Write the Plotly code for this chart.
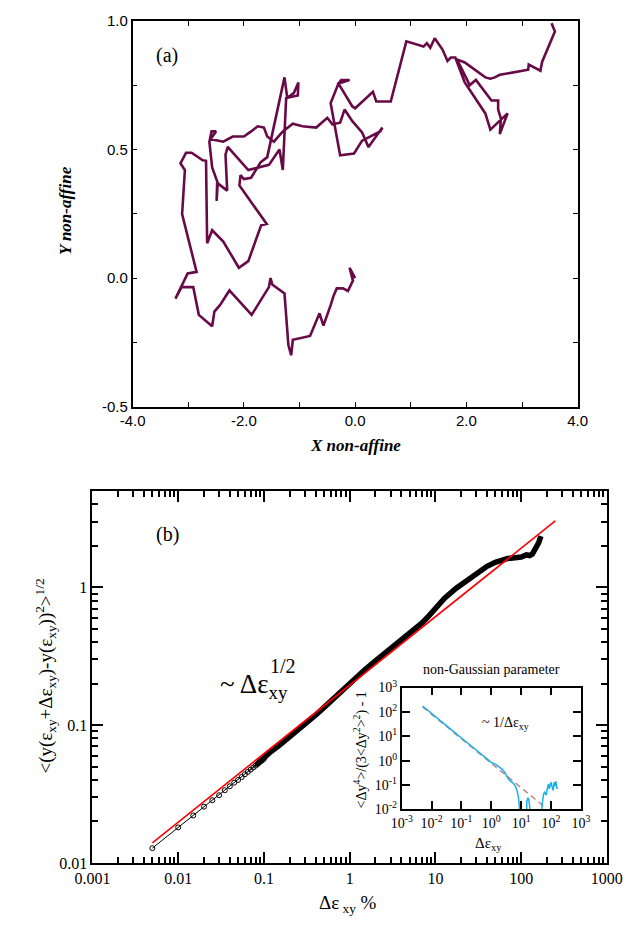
import plotly.graph_objects as go

# ---------------- Panel (a): non-affine trajectory ----------------
traj_x = [0.00, -0.10, -0.04, -0.13, -0.22, -0.33, -0.39, -0.44, -0.57, -0.64, -0.81, -1.12, -1.15, -1.20,
          -1.27, -1.49, -1.52, -1.55, -1.86, -2.26, -2.43, -2.53, -2.57, -2.81, -2.91, -3.12, -3.23, -3.01,
          -2.85, -3.11, -3.06, -3.14, -3.04, -2.94, -2.74, -2.68, -2.66, -2.57, -2.37, -2.09, -1.92, -1.69,
          -1.59, -2.08, -2.06, -2.00, -1.87, -1.70, -1.58, -1.27, -1.22, -1.10, -1.02, -1.03, -1.24, -1.30,
          -1.36, -1.55, -1.92, -2.29, -2.33, -2.30, -2.48, -2.49, -2.47, -2.57, -2.62, -2.58, -2.50, -2.60,
          -2.37, -2.20, -2.00, -1.87, -1.75, -1.64, -1.58, -1.46, -1.30, -1.12, -0.99, -0.95, -0.70, -0.50,
          -0.41, -0.27, -0.19, -0.05, 0.125, 0.24, 0.49, 0.45, 0.125, -0.02, -0.27, -0.44, -0.30, -0.25,
          -0.10, -0.30, -0.05, 0.00, 0.32, 0.38, 0.64, 0.92, 1.23, 1.29, 1.35, 1.43, 1.57, 1.66, 1.72, 1.80,
          1.97, 2.34, 2.43, 2.74, 2.60, 2.62, 2.57, 2.57, 2.45, 2.17, 2.06, 1.83, 1.97, 2.34, 2.43, 2.51,
          2.60, 3.11, 3.12, 3.33, 3.36, 3.59, 3.53]
traj_y = [0.00, 0.04, -0.01, -0.05, -0.04, -0.04, -0.07, -0.105, -0.185, -0.137, -0.225, -0.24, -0.30, -0.26,
          -0.06, -0.025, 0.00, -0.035, -0.143, -0.048, -0.105, -0.13, -0.187, -0.143, -0.035, -0.035, -0.08, 0.018,
          0.024, 0.249, 0.42, 0.446, 0.487, 0.487, 0.458, 0.456, 0.135, 0.186, 0.142, 0.04, 0.066, 0.205,
          0.21, 0.36, 0.40, 0.385, 0.39, 0.45, 0.47, 0.78, 0.70, 0.72, 0.76, 0.71, 0.70, 0.42,
          0.50, 0.44, 0.42, 0.51, 0.48, 0.34, 0.37, 0.30, 0.37, 0.43, 0.53, 0.57, 0.57, 0.54,
          0.53, 0.55, 0.55, 0.57, 0.59, 0.585, 0.55, 0.53, 0.57, 0.60, 0.59, 0.59, 0.585, 0.623,
          0.598, 0.604, 0.655, 0.61, 0.566, 0.509, 0.585, 0.57, 0.534, 0.484, 0.477, 0.68, 0.756, 0.77,
          0.77, 0.756, 0.667, 0.66, 0.724, 0.686, 0.686, 0.92, 0.90, 0.913, 0.895, 0.932, 0.888, 0.844, 0.857, 0.857,
          0.76, 0.64, 0.577, 0.64, 0.56, 0.62, 0.655, 0.69, 0.69, 0.77, 0.75, 0.85, 0.838, 0.78, 0.775, 0.78,
          0.79, 0.81, 0.83, 0.806, 0.84, 0.958, 0.99]

# ---------------- Panel (b): MSD-like curve ----------------
pts_x = [0.005, 0.010, 0.015, 0.020, 0.025, 0.030, 0.035, 0.040, 0.045, 0.050,
         0.055, 0.060, 0.065, 0.070, 0.075, 0.080, 0.085, 0.090, 0.095, 0.100]
pts_y = [0.0128, 0.0181, 0.0221, 0.0256, 0.0285, 0.0310, 0.0337, 0.0360, 0.0382, 0.0400,
         0.0420, 0.0440, 0.0458, 0.0476, 0.0492, 0.0508, 0.0524, 0.0540, 0.0554, 0.0570]

band_x = [0.08, 0.1, 0.12, 0.15, 0.2, 0.25, 0.3, 0.4, 0.5, 0.7, 1.0, 1.5, 2.0, 3.0, 4.0, 5.0, 6.0, 7.0,
          8.5, 10, 12.8, 17.5, 24, 33, 40, 50, 60, 70, 85, 100, 115, 125, 135, 150, 160, 170]
band_y = [0.051, 0.058, 0.064, 0.071, 0.082, 0.092, 0.101, 0.118, 0.134, 0.163, 0.203, 0.252, 0.292, 0.357,
          0.412, 0.462, 0.508, 0.552, 0.625, 0.705, 0.835, 0.985, 1.13, 1.30, 1.42, 1.52, 1.58, 1.62, 1.64,
          1.66, 1.72, 1.70, 1.74, 1.92, 2.10, 2.35]

fit_x = [0.005, 250]
fit_y = [0.0140, 3.03]

# ---------------- Inset: non-Gaussian parameter ----------------
ng_x = [0.005, 0.01, 0.02, 0.05, 0.1, 0.2, 0.4, 0.7, 1.0, 1.4, 1.8, 2.3, 2.8, 3.3, 3.8, 4.4, 5.2, 6.4,
        7.3, 8.1, 8.8, 9.2, 14.5, 15.5, 17, 18, 19.5, 20.5, 48, 50, 53, 57, 61, 64, 69, 73, 78, 82, 88,
        93, 100, 110, 118, 127, 135, 145, 155, 170]
ng_y = [175, 85, 42, 17, 8.5, 4.2, 2.0, 1.15, 0.85, 0.70, 0.58, 0.45, 0.34, 0.22, 0.17, 0.145, 0.125, 0.09,
        0.06, 0.032, 0.012, 0.0001, 0.0001, 0.022, 0.030, 0.026, 0.012, 0.0001, 0.0001, 0.015, 0.035, 0.044,
        0.050, 0.045, 0.038, 0.060, 0.100, 0.110, 0.070, 0.100, 0.130, 0.080, 0.060, 0.130, 0.090, 0.140,
        0.080, 0.070]
guide_x = [0.005, 57]
guide_y = [160, 0.0135]

W, H = 642, 931
SERIF = "Liberation Serif, Times New Roman, serif"
SANS = "Liberation Sans, Arial, sans-serif"

fig = go.Figure()
fig.add_trace(go.Scatter(x=traj_x, y=traj_y, mode="lines", xaxis="x", yaxis="y",
                         line=dict(color="#680A48", width=2.6), showlegend=False))
fig.add_trace(go.Scatter(x=band_x, y=band_y, mode="lines", xaxis="x2", yaxis="y2",
                         line=dict(color="black", width=5.5), showlegend=False))
fig.add_trace(go.Scatter(x=pts_x, y=pts_y, mode="lines+markers", xaxis="x2", yaxis="y2",
                         line=dict(color="black", width=1),
                         marker=dict(symbol="circle-open", size=5, color="black", line=dict(width=1)),
                         showlegend=False))
fig.add_trace(go.Scatter(x=fit_x, y=fit_y, mode="lines", xaxis="x2", yaxis="y2",
                         line=dict(color="red", width=1.6), showlegend=False))
fig.add_trace(go.Scatter(x=guide_x, y=guide_y, mode="lines", xaxis="x3", yaxis="y3",
                         line=dict(color="#C08A86", width=1.5, dash="6px,4px"), showlegend=False))
fig.add_trace(go.Scatter(x=ng_x, y=ng_y, mode="lines", xaxis="x3", yaxis="y3",
                         line=dict(color="#18B0E8", width=1.5), showlegend=False))


def px(v):
    return v / W


def py(v):
    return 1 - v / H


logminor = lambda lo, hi: [m * 10 ** e for e in range(lo, hi) for m in range(2, 10)]

common = dict(showline=True, linecolor="black", mirror="ticks", showgrid=False, zeroline=False,
              ticks="inside", tickcolor="black")

fig.update_layout(
    width=W, height=H, margin=dict(l=0, r=0, t=0, b=0),
    paper_bgcolor="white", plot_bgcolor="white",
    xaxis=dict(domain=[px(121), px(591)], anchor="y", range=[-4, 4],
               tickvals=[-4, -2, 0, 2, 4], ticktext=["-4.0", "-2.0", "0.0", "2.0", "4.0"],
               ticklen=5, tickwidth=1.2, linewidth=1.5,
               minor=dict(tickvals=[-3, -1, 1, 3], ticks="inside", ticklen=5, tickcolor="black"),
               tickfont=dict(family=SANS, size=15, color="black"), **common),
    yaxis=dict(domain=[py(405), py(11)], anchor="x", range=[-0.5, 1.0],
               tickvals=[-0.5, 0, 0.5, 1.0], ticktext=["-0.5", "0.0", "0.5", "1.0"],
               ticklen=5, tickwidth=1.2, linewidth=1.5,
               minor=dict(tickvals=[-0.25, 0.25, 0.75], ticks="inside", ticklen=5, tickcolor="black"),
               tickfont=dict(family=SANS, size=15, color="black"), **common),
    xaxis2=dict(domain=[px(78.6), px(621.8)], anchor="y2", type="log", range=[-3, 3],
                tickvals=[0.001, 0.01, 0.1, 1, 10, 100, 1000],
                ticktext=["0.001", "0.01", "0.1", "1", "10", "100", "1000"],
                ticklen=11, tickwidth=1.5, linewidth=2,
                minor=dict(tickvals=logminor(-3, 3), ticks="inside", ticklen=6, tickcolor="black"),
                tickfont=dict(family=SERIF, size=16, color="black"), **common),
    yaxis2=dict(domain=[py(870.7), py(491)], anchor="x2", type="log", range=[-2, 0.699],
                tickvals=[0.01, 0.1, 1], ticktext=["0.01", "0.1", "1"],
                ticklen=11, tickwidth=1.5, linewidth=2,
                minor=dict(tickvals=logminor(-2, 1), ticks="inside", ticklen=6, tickcolor="black"),
                tickfont=dict(family=SERIF, size=16, color="black"), **common),
    xaxis3=dict(domain=[px(405.2), px(594.3)], anchor="y3", type="log", range=[-3, 3],
                tickvals=[0.001, 0.01, 0.1, 1, 10, 100, 1000],
                ticktext=["10<sup>-3</sup>", "10<sup>-2</sup>", "10<sup>-1</sup>", "10<sup>0</sup>",
                          "10<sup>1</sup>", "10<sup>2</sup>", "10<sup>3</sup>"],
                ticklen=8, tickwidth=1.5, linewidth=1.8,
                tickfont=dict(family=SERIF, size=14, color="black"), **common),
    yaxis3=dict(domain=[py(816), py(691.7)], anchor="x3", type="log", range=[-2, 3],
                tickvals=[0.01, 0.1, 1, 10, 100, 1000],
                ticktext=["10<sup>-2</sup>", "10<sup>-1</sup>", "10<sup>0</sup>", "10<sup>1</sup>",
                          "10<sup>2</sup>", "10<sup>3</sup>"],
                ticklen=8, tickwidth=1.5, linewidth=1.8,
                tickfont=dict(family=SERIF, size=14, color="black"), **common),
)

ann = [
    dict(text="(a)", x=px(157.6), y=py(46), font=dict(family=SERIF, size=20)),
    dict(text="(b)", x=px(157.6), y=py(535), font=dict(family=SERIF, size=20)),
    dict(text="<b><i>X non-affine</i></b>", x=px(356), y=py(445), font=dict(family=SERIF, size=17)),
    dict(text="<b><i>Y non-affine</i></b>", x=px(51), y=py(205), textangle=-90,
         font=dict(family=SERIF, size=17)),
    dict(text="Δε<sub> xy</sub> %", x=px(348), y=py(913), font=dict(family=SERIF, size=19)),
    dict(text="&lt;(y(ε<sub>xy</sub>+Δε<sub>xy</sub>)-y(ε<sub>xy</sub>))<sup>2</sup>&gt;<sup>1/2</sup>",
         x=px(29), y=py(680), textangle=-90, font=dict(family=SERIF, size=19)),
    dict(text="~ Δε<sub>xy</sub>", x=px(211), y=py(690), xanchor="left", font=dict(family=SERIF, size=27)),
    dict(text="1/2", x=px(264), y=py(670), xanchor="left", font=dict(family=SERIF, size=20)),
    dict(text="non-Gaussian parameter", x=px(499.6), y=py(673), font=dict(family=SERIF, size=14)),
    dict(text="~ 1/Δε<sub>xy</sub>", x=px(515), y=py(728), font=dict(family=SERIF, size=14)),
    dict(text="&lt;Δy<sup>4</sup>&gt;/(3&lt;Δy<sup>2</sup>&gt;<sup>2</sup>) - 1", x=px(362), y=py(755),
         textangle=-90, font=dict(family=SERIF, size=14)),
    dict(text="Δε<sub>xy</sub>", x=px(497), y=py(851), font=dict(family=SERIF, size=15)),
]
for a in ann:
    a.setdefault("xanchor", "center")
    a.update(xref="paper", yref="paper", showarrow=False, yanchor="middle")
    a["font"]["color"] = "black"
    fig.add_annotation(**a)

fig.write_html("out.html", config={"displayModeBar": False},
               post_script="document.body.style.margin='0px';")
